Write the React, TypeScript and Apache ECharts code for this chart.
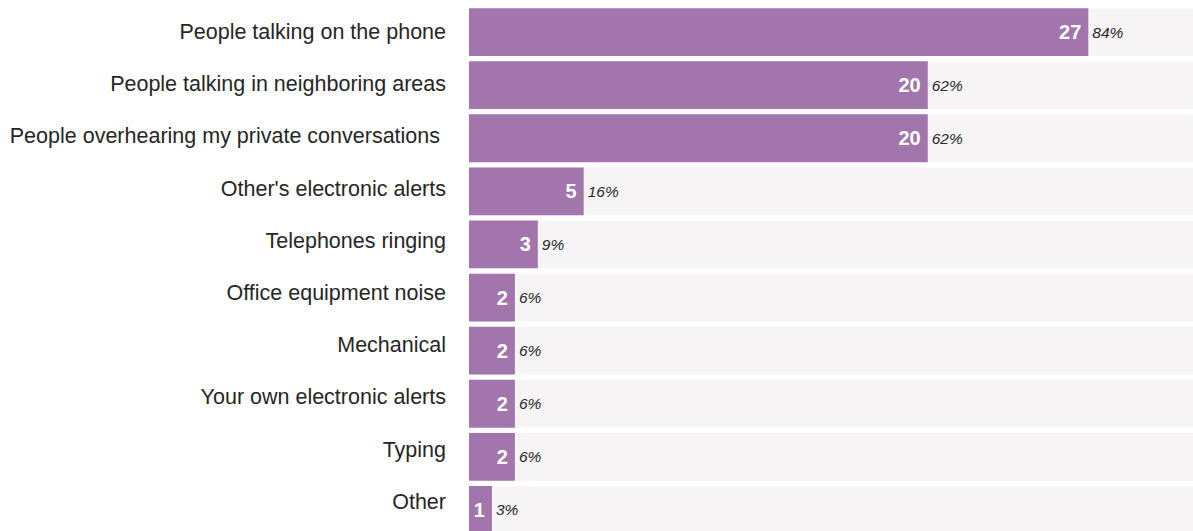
import React, { useEffect, useRef } from "react";
import * as echarts from "echarts";

const categories = [
  "People talking on the phone",
  "People talking in neighboring areas",
  "People overhearing my private conversations ",
  "Other's electronic alerts",
  "Telephones ringing",
  "Office equipment noise",
  "Mechanical",
  "Your own electronic alerts",
  "Typing",
  "Other",
];
const counts = [27, 20, 20, 5, 3, 2, 2, 2, 2, 1];
const percents = [84, 62, 62, 16, 9, 6, 6, 6, 6, 3];

const FONT = "'Liberation Sans', Arial, sans-serif";

export default function App() {
  const ref = useRef<HTMLDivElement>(null);
  useEffect(() => {
    const chart = echarts.init(ref.current!, null, { renderer: "svg" });
    chart.setOption({
      animation: false,
      grid: [
        { left: 469, width: 734, top: 5.5, height: 531, containLabel: false, outerBoundsMode: "none" },
        { left: 469, width: 734, top: 5.9, height: 522, containLabel: false, outerBoundsMode: "none" },
      ],
      xAxis: [
        { type: "value", gridIndex: 0, min: 0, max: 32, show: false },
        { type: "value", gridIndex: 1, min: 0, max: 32, show: false },
      ],
      yAxis: [
        {
          type: "category",
          gridIndex: 0,
          data: categories,
          inverse: true,
          axisLine: { show: false },
          axisTick: { show: false },
          axisLabel: { show: false },
        },
        {
          type: "category",
          gridIndex: 1,
          data: categories,
          inverse: true,
          axisLine: { show: false },
          axisTick: { show: false },
          axisLabel: {
            show: true,
            margin: 23,
            color: "#262626",
            fontSize: 21.5,
            fontFamily: FONT,
          },
        },
      ],
      series: [
        {
          type: "bar",
          xAxisIndex: 0,
          yAxisIndex: 0,
          data: counts,
          barCategoryGap: "10%",
          barGap: "-100%",
          itemStyle: { color: "#A276AC" },
          showBackground: true,
          backgroundStyle: { color: "#F7F4F6" },
          label: {
            show: true,
            position: "insideRight",
            distance: 7,
            color: "#ffffff",
            fontWeight: "bold",
            fontSize: 20,
            fontFamily: FONT,
          },
        },
        {
          type: "bar",
          xAxisIndex: 0,
          yAxisIndex: 0,
          data: counts,
          barCategoryGap: "10%",
          barGap: "-100%",
          itemStyle: { color: "transparent" },
          label: {
            show: true,
            position: "right",
            distance: 4,
            color: "#262626",
            fontStyle: "italic",
            fontSize: 15.5,
            fontFamily: FONT,
            formatter: (p: any) => percents[p.dataIndex] + "%",
          },
        },
        {
          type: "bar",
          xAxisIndex: 1,
          yAxisIndex: 1,
          data: [],
        },
      ],
    });
    return () => chart.dispose();
  }, []);
  return (
    <div
      ref={ref}
      style={{ position: "absolute", left: 0, top: 0, width: 1193, height: 531, background: "#fff" }}
    />
  );
}
